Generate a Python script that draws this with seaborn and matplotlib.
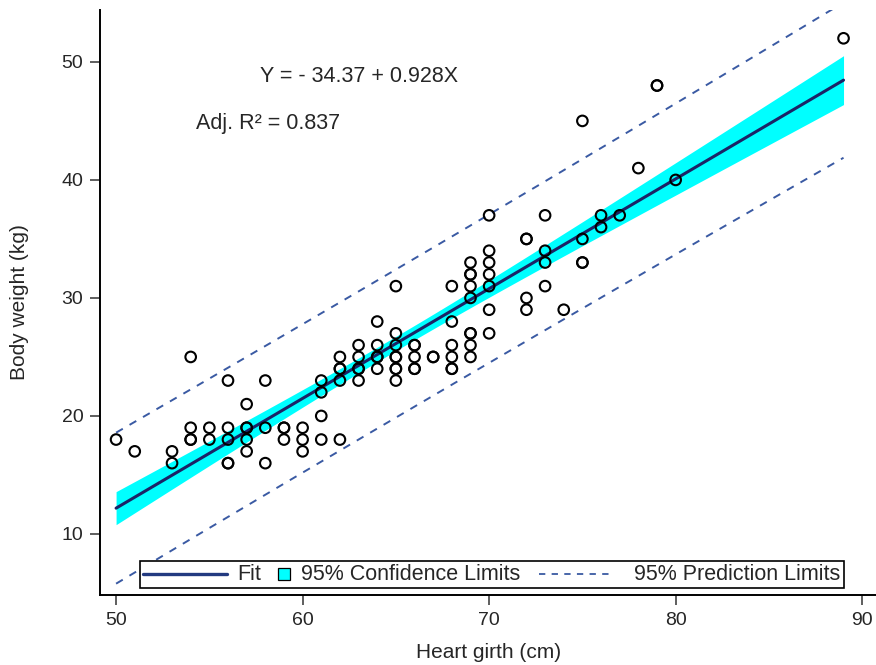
import numpy as np
import pandas as pd
import matplotlib
matplotlib.use("Agg")
import matplotlib.pyplot as plt
import seaborn as sns
from matplotlib.lines import Line2D
from matplotlib.patches import Rectangle
from matplotlib.offsetbox import AnchoredOffsetbox, DrawingArea, TextArea, HPacker

# 데이터 (그림에서 읽은 값, 굵게 보이는 점은 중복 관측)
heart_girth = [50, 51, 53, 53, 54, 54, 54, 54, 55, 55,
               56, 56, 56, 56, 56, 57, 57, 57, 57, 57,
               58, 58, 58, 59, 59, 59, 60, 60, 60,
               61, 61, 61, 61, 62, 62, 62, 62, 62,
               63, 63, 63, 63, 63, 64, 64, 64, 64, 64,
               65, 65, 65, 65, 65, 65, 65, 65,
               66, 66, 66, 66, 66, 67, 67,
               68, 68, 68, 68, 68, 68,
               69, 69, 69, 69, 69, 69, 69, 69, 69,
               70, 70, 70, 70, 70, 70, 70,
               72, 72, 72, 72, 73, 73, 73, 73, 74,
               75, 75, 75, 75, 76, 76, 77, 78, 79, 79, 80, 89]
body_weight = [18, 17, 17, 16, 25, 19, 18, 18, 19, 18,
               23, 19, 18, 16, 16, 21, 19, 19, 18, 17,
               23, 19, 16, 19, 19, 18, 19, 18, 17,
               23, 22, 20, 18, 25, 24, 24, 23, 18,
               26, 25, 24, 24, 23, 28, 26, 25, 25, 24,
               31, 27, 26, 25, 25, 24, 24, 23,
               26, 26, 25, 24, 24, 25, 25,
               31, 28, 26, 25, 24, 24,
               33, 32, 32, 31, 30, 27, 27, 26, 25,
               37, 34, 33, 32, 31, 29, 27,
               35, 35, 30, 29, 37, 34, 33, 31, 29,
               45, 35, 33, 33, 37, 36, 37, 41, 48, 48, 40, 52]

eq_text = "Y = - 34.37 + 0.928X"
r2_text = "Adj. R² = 0.837"
legend_labels = ["Fit", "95% Confidence Limits", "95% Prediction Limits"]

df = pd.DataFrame({"girth": heart_girth, "weight": body_weight})

# 회귀 적합 및 신뢰/예측 구간
x = df["girth"].to_numpy(float)
y = df["weight"].to_numpy(float)
n = len(x)
slope, intercept = np.polyfit(x, y, 1)
resid = y - (intercept + slope * x)
s = np.sqrt(np.sum(resid ** 2) / (n - 2))
t_val = 1.984
sxx = np.sum((x - x.mean()) ** 2)

grid = np.linspace(x.min(), x.max(), 200)
fit = intercept + slope * grid
se_mean = s * np.sqrt(1 / n + (grid - x.mean()) ** 2 / sxx)
se_pred = s * np.sqrt(1 + 1 / n + (grid - x.mean()) ** 2 / sxx)
band = pd.DataFrame({
    "girth": grid, "fit": fit,
    "cl_lo": fit - t_val * se_mean, "cl_hi": fit + t_val * se_mean,
    "pl_lo": fit - t_val * se_pred, "pl_hi": fit + t_val * se_pred,
})

sns.set_theme(style="ticks")
plt.rcParams["font.family"] = ["Liberation Sans", "DejaVu Sans"]

fig = plt.figure(figsize=(8.76, 6.65), dpi=100)
ax = fig.add_axes([0.1142, 0.1053, 0.886, 0.8797])

fit_color = "#1b2466"
pl_color = "#3a5aa3"
cl_color = "#00ffff"

ax.fill_between(band["girth"], band["cl_lo"], band["cl_hi"], color=cl_color, lw=0, zorder=1)
sns.lineplot(data=band, x="girth", y="fit", color=fit_color, lw=2.2, ax=ax, zorder=3)
sns.lineplot(data=band, x="girth", y="pl_hi", color=pl_color, lw=1.4, ax=ax, zorder=2)
sns.lineplot(data=band, x="girth", y="pl_lo", color=pl_color, lw=1.4, ax=ax, zorder=2)
for line in ax.lines[1:]:
    line.set_dashes((4, 4))

sns.scatterplot(data=df, x="girth", y="weight", marker="o", s=58, facecolor="none",
                edgecolor="black", linewidth=1.5, ax=ax, zorder=4)

ax.set_xlim(49.14, 90.75)
ax.set_ylim(4.83, 54.4)
ax.set_xticks([50, 60, 70, 80, 90])
ax.set_yticks([10, 20, 30, 40, 50])
ax.tick_params(direction="out", length=7, width=1.1, color="#333333", labelsize=14, pad=5)
for side in ["top", "right"]:
    ax.spines[side].set_visible(False)
for side in ["left", "bottom"]:
    ax.spines[side].set_linewidth(1.4)
    ax.spines[side].set_color("black")

ax.set_xlabel("Heart girth (cm)", fontsize=15)
ax.set_ylabel("Body weight (kg)", fontsize=15)
ax.xaxis.set_label_coords(0.501, -0.082)
ax.yaxis.set_label_coords(-0.092, 0.5)

ax.text(63.0, 48.8, eq_text, fontsize=15.5, ha="center", va="center")
ax.text(54.3, 44.8, r2_text, fontsize=15.5, ha="left", va="center")

# 범례 (SAS 스타일: 항목마다 다른 핸들 길이)
fs = 15.5
da_h = 10
fit_da = DrawingArea(61, da_h)
fit_da.add_artist(Line2D([0, 61], [da_h / 2, da_h / 2], color="#233a80", lw=2.4))
sq_da = DrawingArea(15, da_h)
sq_da.add_artist(Rectangle((5, da_h / 2 - 4.3), 8.6, 8.6, facecolor=cl_color,
                           edgecolor="black", lw=0.9))
pl_da = DrawingArea(68, da_h)
pl_da.add_artist(Line2D([6.5, 60.5], [da_h / 2, da_h / 2], color=pl_color, lw=1.3,
                        dashes=(3.5, 3.5)))
items = [fit_da, TextArea(legend_labels[0], textprops=dict(fontsize=fs)),
         sq_da, TextArea(legend_labels[1], textprops=dict(fontsize=fs)),
         pl_da, TextArea(legend_labels[2], textprops=dict(fontsize=fs))]
pack = HPacker(children=items, align="center", pad=0, sep=7)
leg = AnchoredOffsetbox(loc="lower center", child=pack, pad=0.2, borderpad=0,
                        frameon=True, bbox_to_anchor=(0.5045, 0.012),
                        bbox_transform=ax.transAxes)
leg.patch.set_boxstyle("square,pad=0")
leg.patch.set_edgecolor("black")
leg.patch.set_linewidth(1.2)
leg.set_zorder(6)
ax.add_artist(leg)

plt.savefig("out.png", dpi=100)
plt.close()
